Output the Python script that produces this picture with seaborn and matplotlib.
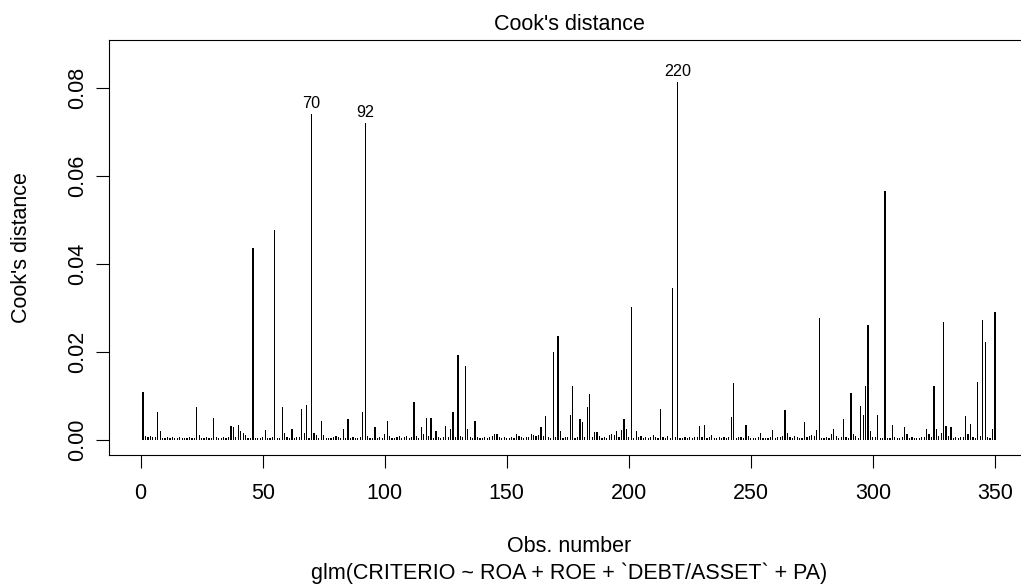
import matplotlib
matplotlib.use("Agg")
import matplotlib.pyplot as plt
from matplotlib.ticker import FormatStrFormatter
import numpy as np
import pandas as pd
import seaborn as sns

# Cook's distance for each observation of the logistic model (obs. 1..350)
cook = [
    0.0108, 0.0009, 0.0007, 0.0009, 0.0006, 0.0005, 0.0064, 0.0019, 0.0004, 0.0003,
    0.0005, 0.0003, 0.0006, 0.0004, 0.0003, 0.0005, 0.0004, 0.0003, 0.0004, 0.0005,
    0.0003, 0.0004, 0.0074, 0.0010, 0.0004, 0.0003, 0.0005, 0.0004, 0.0003, 0.0049,
    0.0005, 0.0003, 0.0004, 0.0006, 0.0004, 0.0005, 0.0031, 0.0029, 0.0006, 0.0034,
    0.0019, 0.0015, 0.0011, 0.0004, 0.0003, 0.0437, 0.0004, 0.0003, 0.0004, 0.0005,
    0.0021, 0.0004, 0.0003, 0.0005, 0.0478, 0.0004, 0.0003, 0.0074, 0.0016, 0.0005,
    0.0004, 0.0025, 0.0004, 0.0005, 0.0006, 0.0070, 0.0014, 0.0079, 0.0004, 0.0741,
    0.0014, 0.0010, 0.0003, 0.0043, 0.0010, 0.0004, 0.0003, 0.0004, 0.0005, 0.0009,
    0.0006, 0.0003, 0.0025, 0.0004, 0.0046, 0.0004, 0.0005, 0.0003, 0.0004, 0.0005,
    0.0064, 0.0721, 0.0008, 0.0004, 0.0003, 0.0028, 0.0004, 0.0006, 0.0004, 0.0012,
    0.0043, 0.0009, 0.0004, 0.0003, 0.0006, 0.0008, 0.0004, 0.0005, 0.0008, 0.0004,
    0.0006, 0.0085, 0.0008, 0.0004, 0.0028, 0.0012, 0.0049, 0.0008, 0.0049, 0.0004,
    0.0019, 0.0005, 0.0004, 0.0006, 0.0030, 0.0006, 0.0024, 0.0064, 0.0005, 0.0193,
    0.0008, 0.0006, 0.0168, 0.0024, 0.0006, 0.0004, 0.0043, 0.0005, 0.0004, 0.0003,
    0.0005, 0.0004, 0.0006, 0.0008, 0.0012, 0.0012, 0.0005, 0.0004, 0.0006, 0.0004,
    0.0003, 0.0005, 0.0004, 0.0012, 0.0008, 0.0006, 0.0004, 0.0005, 0.0006, 0.0012,
    0.0010, 0.0009, 0.0011, 0.0028, 0.0008, 0.0053, 0.0006, 0.0004, 0.0200, 0.0006,
    0.0236, 0.0019, 0.0004, 0.0006, 0.0005, 0.0055, 0.0123, 0.0004, 0.0006, 0.0047,
    0.0040, 0.0005, 0.0074, 0.0104, 0.0005, 0.0017, 0.0017, 0.0008, 0.0004, 0.0005,
    0.0004, 0.0011, 0.0013, 0.0010, 0.0019, 0.0006, 0.0021, 0.0046, 0.0024, 0.0005,
    0.0301, 0.0004, 0.0019, 0.0006, 0.0008, 0.0004, 0.0005, 0.0004, 0.0006, 0.0010,
    0.0005, 0.0004, 0.0070, 0.0005, 0.0004, 0.0008, 0.0004, 0.0345, 0.0006, 0.0814,
    0.0004, 0.0003, 0.0005, 0.0004, 0.0006, 0.0004, 0.0005, 0.0006, 0.0030, 0.0006,
    0.0034, 0.0004, 0.0005, 0.0010, 0.0004, 0.0003, 0.0005, 0.0004, 0.0006, 0.0004,
    0.0005, 0.0052, 0.0128, 0.0004, 0.0006, 0.0005, 0.0004, 0.0034, 0.0009, 0.0004,
    0.0003, 0.0004, 0.0005, 0.0016, 0.0004, 0.0003, 0.0004, 0.0005, 0.0023, 0.0004,
    0.0006, 0.0005, 0.0008, 0.0067, 0.0015, 0.0006, 0.0004, 0.0009, 0.0005, 0.0004,
    0.0003, 0.0040, 0.0005, 0.0008, 0.0010, 0.0009, 0.0021, 0.0277, 0.0004, 0.0003,
    0.0005, 0.0004, 0.0012, 0.0024, 0.0009, 0.0004, 0.0005, 0.0047, 0.0006, 0.0004,
    0.0107, 0.0012, 0.0009, 0.0004, 0.0077, 0.0055, 0.0123, 0.0261, 0.0019, 0.0006,
    0.0006, 0.0055, 0.0004, 0.0004, 0.0567, 0.0004, 0.0004, 0.0034, 0.0005, 0.0004,
    0.0004, 0.0005, 0.0028, 0.0013, 0.0004, 0.0005, 0.0004, 0.0003, 0.0004, 0.0005,
    0.0006, 0.0024, 0.0012, 0.0006, 0.0122, 0.0025, 0.0008, 0.0015, 0.0267, 0.0030,
    0.0008, 0.0028, 0.0004, 0.0005, 0.0004, 0.0006, 0.0005, 0.0053, 0.0012, 0.0036,
    0.0006, 0.0004, 0.0132, 0.0009, 0.0272, 0.0223, 0.0006, 0.0004, 0.0024, 0.0291,
]
obs = list(range(1, len(cook) + 1))

x_ticks = [0, 50, 100, 150, 200, 250, 300, 350]
y_ticks = [0.00, 0.02, 0.04, 0.06, 0.08]

title = "Cook's distance"
x_label = "Obs. number"
y_label = "Cook's distance"
model_call = "glm(CRITERIO ~ ROA + ROE + `DEBT/ASSET` + PA)"
n_labelled = 3

sns.set_style("ticks")
plt.rcParams["font.family"] = ["Liberation Sans", "DejaVu Sans"]

df = pd.DataFrame({"obs": obs, "cook": cook})

fig = plt.figure(figsize=(10.21, 5.84), dpi=100)
ax = fig.add_axes([109 / 1021, (584 - 455) / 584, 920 / 1021, 415 / 584])

# spikes ("type h" style): very thin bars on a numeric x axis
sns.barplot(data=df, x="obs", y="cook", native_scale=True, width=0.5,
            color="black", saturation=1, linewidth=0, errorbar=None, ax=ax)

# R-style axis limits (4% padding, top scaled by 1.075)
n = len(cook)
xr = n - 1
ax.set_xlim(1 - 0.04 * xr, n + 0.04 * xr)
ytop = max(cook) * 1.075
ax.set_ylim(-0.04 * ytop, ytop * 1.04)

ax.set_xticks(x_ticks)
ax.set_yticks(y_ticks)
ax.yaxis.set_major_formatter(FormatStrFormatter("%.2f"))
for lab in ax.get_yticklabels():
    lab.set_rotation(90)
    lab.set_va("center")

ax.tick_params(axis="both", length=9.4, width=0.8, color="black",
               labelsize=15.5, labelcolor="black", direction="out")
ax.tick_params(axis="x", pad=10.9)
ax.tick_params(axis="y", pad=5.3)

for sp in ax.spines.values():
    sp.set_visible(True)
    sp.set_color("black")
    sp.set_linewidth(0.8)

# identify the largest values
order = np.argsort(cook)[::-1][:n_labelled]
for i in order:
    ax.annotate(str(obs[i]), xy=(obs[i], cook[i]), xytext=(0, 4.3),
                textcoords="offset points", ha="center", va="baseline",
                fontsize=11.6, color="black")

ax.set_title(title, fontsize=15.5, pad=7, color="black")
ax.set_xlabel(x_label, fontsize=15.5, color="black")
ax.xaxis.set_label_coords(0.5, (455 - 547) / 415)
ax.xaxis.label.set_va("center")
ax.set_ylabel(y_label, fontsize=15.5, color="black")
ax.yaxis.set_label_coords((22 - 109) / 920, 0.5)
ax.yaxis.label.set_va("center")
ax.text(0.5, (455 - 573) / 415, model_call, transform=ax.transAxes,
        ha="center", va="center", fontsize=15.5, color="black")

fig.savefig("out.png", dpi=100, facecolor="white")
